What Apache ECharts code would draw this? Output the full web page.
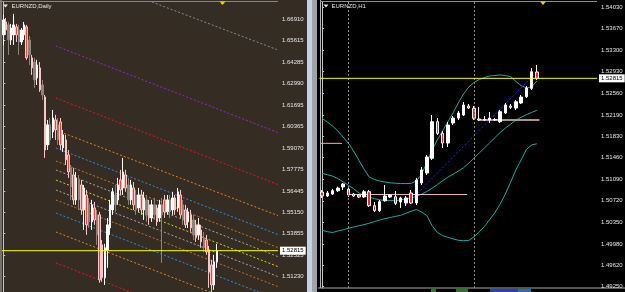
<!DOCTYPE html>
<html><head><meta charset="utf-8">
<script src="https://cdn.jsdelivr.net/npm/echarts@6/dist/echarts.min.js"></script>
<style>html,body{margin:0;padding:0;background:#000;}#c{width:625px;height:292px;}</style>
</head><body><div id="c"></div>
<script>
// ---------- LEFT PANEL: EURNZD, Daily ----------
const leftTitle = 'EURNZD,Daily';
const leftOpen = [1.6596,1.6675,1.6657,1.6565,1.6596,1.6645,1.6626,1.6553,1.6596,1.6645,
1.6565,1.6456,1.6431,1.6334,1.6395,1.6291,1.6218,1.5926,1.6048,1.6005,
1.6078,1.6048,1.6066,1.5908,1.5956,1.5865,1.5786,1.5743,1.5591,1.5713,
1.5682,1.5530,1.5621,1.5561,1.5457,1.5542,1.5500,1.5500,1.5317,1.5116,
1.5286,1.5420,1.5530,1.5621,1.5591,1.5713,1.5664,1.5743,1.5682,1.5591,
1.5664,1.5621,1.5542,1.5621,1.5530,1.5591,1.5561,1.5481,1.5561,1.5542,
1.5481,1.5561,1.5591,1.5518,1.5591,1.5530,1.5603,1.5542,1.5621,1.5561,
1.5530,1.5457,1.5500,1.5469,1.5439,1.5378,1.5408,1.5360,1.5347,1.5286,
1.5195,1.5073,1.5213];
const leftClose = [1.6687,1.6626,1.6565,1.6638,1.6657,1.6596,1.6553,1.6626,1.6657,1.6456,
1.6474,1.6395,1.6322,1.6413,1.6261,1.6230,1.5895,1.6048,1.5956,1.6090,
1.6017,1.5956,1.5926,1.5987,1.5835,1.5761,1.5682,1.5591,1.5725,1.5591,
1.5530,1.5664,1.5439,1.5457,1.5561,1.5469,1.5378,1.5104,1.5116,1.5299,
1.5439,1.5561,1.5640,1.5561,1.5682,1.5652,1.5761,1.5664,1.5591,1.5682,
1.5561,1.5530,1.5621,1.5530,1.5603,1.5500,1.5481,1.5561,1.5500,1.5457,
1.5561,1.5500,1.5518,1.5591,1.5518,1.5603,1.5530,1.5640,1.5500,1.5469,
1.5439,1.5518,1.5420,1.5378,1.5360,1.5439,1.5335,1.5299,1.5274,1.5152,
1.5073,1.5213,1.52815];
const leftLow = [1.6535,1.6596,1.6474,1.6535,1.6535,1.6553,1.6474,1.6535,1.6565,1.6444,
1.6413,1.6352,1.6273,1.6291,1.6249,1.6200,1.5847,1.5895,1.5926,1.5968,
1.5956,1.5926,1.5895,1.5883,1.5804,1.5725,1.5591,1.5561,1.5561,1.5530,
1.5500,1.5408,1.5378,1.5420,1.5408,1.5439,1.5317,1.5086,1.5092,1.5073,
1.5177,1.5378,1.5500,1.5518,1.5561,1.5621,1.5621,1.5640,1.5561,1.5561,
1.5530,1.5500,1.5518,1.5500,1.5469,1.5457,1.5439,1.5457,1.5469,1.5433,
1.5457,1.5207,1.5481,1.5500,1.5481,1.5500,1.5500,1.5518,1.5481,1.5439,
1.5420,1.5420,1.5396,1.5347,1.5335,1.5347,1.5299,1.5274,1.5256,1.5055,
1.5031,1.5043,1.5177];
const leftHigh = [1.6718,1.6699,1.6675,1.6663,1.6724,1.6663,1.6657,1.6638,1.6675,1.6657,
1.6590,1.6474,1.6456,1.6444,1.6431,1.6322,1.6230,1.6078,1.6090,1.6139,
1.6109,1.6090,1.6090,1.6017,1.5987,1.5895,1.5804,1.5786,1.5761,1.5743,
1.5713,1.5682,1.5652,1.5603,1.5591,1.5579,1.5530,1.5518,1.5347,1.5323,
1.5481,1.5591,1.5664,1.5682,1.5725,1.5774,1.5847,1.5774,1.5725,1.5713,
1.5700,1.5652,1.5664,1.5652,1.5640,1.5621,1.5591,1.5591,1.5603,1.5561,
1.5591,1.5603,1.5621,1.5621,1.5621,1.5640,1.5621,1.5664,1.5652,1.5591,
1.5561,1.5542,1.5530,1.5500,1.5469,1.5481,1.5439,1.5396,1.5378,1.5311,
1.5226,1.5256,1.5323];
// bars belonging to the grey overlay candles
const leftGreyBars = [2,6,10,12,15,18,21,26,29,33,36,43,48,51,55,58,61,64,69,73,77];
const leftTicks = [1.66910,1.65615,1.64285,1.62990,1.61695,1.60365,1.59070,1.57775,1.56445,1.55150,1.53855,1.52525,1.51230];
const leftSlots = 106;
// dotted channel lines: start bar, start price, end price (end bar = right edge)
const forkStartBar   = [20.2,20.2,23.3,20.2,20.2,20.2,20.2,20.2,20.2,20.2,20.2,20.2,57.1];
const forkStartPrice = [1.65284,1.62116,1.59966,1.59070,1.58278,1.57730,1.57121,1.56512,1.55903,1.55111,1.53954,1.52065,1.67964];
const forkEndPrice   = [1.60008,1.56841,1.54952,1.53795,1.53003,1.52455,1.51846,1.51237,1.50627,1.49835,1.48678,1.46790,1.65040];
const forkEndBar = 105.5;

// ---------- RIGHT PANEL: EURNZD, H1 ----------
const rightTitle = 'EURNZD,H1';
const rightOpen = [1.50870,1.50802,1.50836,1.50892,1.50956,1.50921,1.50836,1.50819,1.50785,1.50875,
1.50636,1.50551,1.50721,1.50785,1.50790,1.50699,1.50682,1.50853,1.50682,1.51024,
1.51195,1.51447,1.52073,1.51874,1.51708,1.52051,1.52136,1.52188,1.52341,1.52302,
1.52119,1.52111,1.52102,1.52102,1.52073,1.52222,1.52341,1.52307,1.52393,1.52501,
1.52644,1.52923];
const rightClose = [1.50802,1.50853,1.50892,1.50938,1.51007,1.50819,1.50802,1.50785,1.50875,1.50636,
1.50551,1.50704,1.50802,1.50819,1.50677,1.50768,1.50768,1.50682,1.51075,1.51247,
1.51469,1.52073,1.51874,1.51708,1.52016,1.52136,1.52222,1.52359,1.52307,1.52131,
1.52102,1.52102,1.52136,1.52111,1.52244,1.52359,1.52319,1.52415,1.52495,1.52649,
1.52928,1.52815];
const rightLow = [1.50768,1.50785,1.50819,1.50870,1.50904,1.50785,1.50785,1.50768,1.50768,1.50614,
1.50528,1.50528,1.50704,1.50768,1.50648,1.50597,1.50631,1.50665,1.50648,1.50990,
1.51161,1.51418,1.51845,1.51623,1.51640,1.52016,1.52102,1.52170,1.52290,1.52102,
1.52085,1.52085,1.52051,1.52085,1.52051,1.52205,1.52290,1.52273,1.52376,1.52478,
1.52615,1.52786];
const rightHigh = [1.50904,1.50887,1.50921,1.50961,1.51024,1.50956,1.50853,1.50836,1.50904,1.50904,
1.50699,1.50733,1.50990,1.50836,1.50887,1.50790,1.50802,1.50904,1.51110,1.51298,
1.51503,1.52188,1.52136,1.51914,1.52068,1.52170,1.52256,1.52410,1.52376,1.52341,
1.52324,1.52170,1.52239,1.52136,1.52273,1.52393,1.52376,1.52444,1.52530,1.52684,
1.52991,1.53043];
const bandUpper = [1.52128,1.52068,1.51999,1.51914,1.51811,1.51708,1.51572,1.51417,1.51263,1.51126,
1.51084,1.51058,1.51041,1.51027,1.51021,1.51015,1.51015,1.51019,1.51058,1.51178,
1.51366,1.51589,1.51760,1.51914,1.52068,1.52222,1.52393,1.52547,1.52666,1.52743,
1.52795,1.52829,1.52855,1.52863,1.52872,1.52863,1.52846,1.52761,1.52692,1.52650,
1.52667,1.52769];
const bandMiddle = [1.51190,1.51166,1.51142,1.51101,1.51045,1.50985,1.50928,1.50857,1.50808,1.50781,
1.50757,1.50735,1.50728,1.50725,1.50721,1.50737,1.50754,1.50771,1.50795,1.50834,
1.50879,1.50935,1.50997,1.51062,1.51123,1.51174,1.51229,1.51284,1.51363,1.51452,
1.51537,1.51623,1.51712,1.51800,1.51889,1.51962,1.52030,1.52102,1.52147,1.52193,
1.52231,1.52267];
const bandLower = [1.50215,1.50192,1.50177,1.50203,1.50223,1.50249,1.50271,1.50292,1.50312,1.50336,
1.50364,1.50391,1.50415,1.50434,1.50453,1.50471,1.50507,1.50541,1.50570,1.50528,
1.50468,1.50295,1.50179,1.50126,1.50095,1.50069,1.50045,1.50037,1.50042,1.50102,
1.50189,1.50280,1.50398,1.50518,1.50663,1.50836,1.51037,1.51247,1.51418,1.51596,
1.51674,1.51695];
const rightTicks = [1.54030,1.53670,1.53300,1.52930,1.52560,1.52190,1.51830,1.51460,1.51090,1.50720,1.50350,1.49980,1.49620,1.49250];
const rightSlots = 53;
const trendBars = [16, 41];
const trendPrices = [1.50648, 1.52923];
const levelBars = [[-0.2, 3.8], [5, 27.7], [30, 41.5]];
const levelPrices = [1.51703, 1.50827, 1.52102];
const dayStartBars = [5, 29];
const bidPrice = 1.52815;

// ---------- build ----------
const FONT = 'Liberation Sans';
const leftCats = Array.from({length: leftSlots}, (_, i) => String(i));
const rightCats = Array.from({length: rightSlots}, (_, i) => String(i));
const E = ['-','-','-','-'];
const leftMain = leftOpen.map((o, i) => leftGreyBars.includes(i) ? E : [o, leftClose[i], leftLow[i], leftHigh[i]]);
const leftGrey = leftOpen.map((o, i) => leftGreyBars.includes(i) ? [o, leftClose[i], leftLow[i], leftHigh[i]] : E);
const rightData = rightOpen.map((o, i) => [o, rightClose[i], rightLow[i], rightHigh[i]]);

const forkColors = ['#9a22d4','#e01a1a','#e8801e','#2f8be0','#c8702a','#b4a48c','#e6c81e','#b4a48c','#c8702a','#2f8be0','#e8801e','#e01a1a','#858b93'];
const levelColors = ['#f0b4b4','#e8bcbc','#a89494'];
const levelWidths = [1, 1, 2];

function bidLine(xIdx, yIdx, slots){
  return {type:'line', xAxisIndex:xIdx, yAxisIndex:yIdx, silent:true, symbol:'none', z:5, clip:false,
    data:[[-0.5, bidPrice], [slots - 0.5, bidPrice]],
    lineStyle:{color:'#ffff00', width:1},
    endLabel:{show:true, formatter: bidPrice.toFixed(5), backgroundColor:'#ffffff', color:'#000000',
      fontSize:6, fontFamily:FONT, padding:[1,2,1,2], distance:2}};
}

const series = [];
forkStartBar.forEach((b, k) => series.push({
  type:'line', xAxisIndex:1, yAxisIndex:0, silent:true, symbol:'none', z:1, clip:true,
  data:[[b, forkStartPrice[k]], [forkEndBar, forkEndPrice[k]]],
  lineStyle:{color:forkColors[k], width:1, type:[2,2]}
}));
series.push({
  type:'candlestick', xAxisIndex:0, yAxisIndex:0, silent:true, z:3, barWidth:2,
  data:leftGrey,
  itemStyle:{color:'#8d837a', color0:'#8d837a', borderColor:'#8d837a', borderColor0:'#8d837a', borderWidth:1}
});
series.push({
  type:'candlestick', xAxisIndex:0, yAxisIndex:0, silent:true, z:4, barWidth:2,
  data:leftMain,
  itemStyle:{color:'#ffffff', color0:'#ff3b3b', borderColor:'#ffffff', borderColor0:'#ffc4c4', borderWidth:1}
});
series.push(bidLine(1, 0, leftSlots));
// right overlays
[bandUpper, bandMiddle, bandLower].forEach(b => series.push({
  type:'line', xAxisIndex:2, yAxisIndex:1, silent:true, symbol:'none', z:2, data:b,
  lineStyle:{color:'#20aaa2', width:1}
}));
levelBars.forEach((seg, k) => series.push({
  type:'line', xAxisIndex:3, yAxisIndex:1, silent:true, symbol:'none', z:2,
  data:[[seg[0], levelPrices[k]], [seg[1], levelPrices[k]]],
  lineStyle:{color:levelColors[k], width:levelWidths[k]},
  markLine: k === 0 ? {symbol:'none', silent:true, label:{show:false}, emphasis:{disabled:true},
    lineStyle:{color:'#8c8c8c', width:1, type:[2,2]},
    data: dayStartBars.map(d => ({xAxis: d}))} : undefined
}));
series.push({
  type:'line', xAxisIndex:3, yAxisIndex:1, silent:true, symbol:'none', z:2,
  data: trendBars.map((b, i) => [b, trendPrices[i]]),
  lineStyle:{color:'#2424ff', width:1, type:[2,2]}
});
series.push({
  type:'candlestick', xAxisIndex:2, yAxisIndex:1, silent:true, z:4, barWidth:3,
  data:rightData,
  itemStyle:{color:'#ffffff', color0:'#ff2424', borderColor:'#ffffff', borderColor0:'#ffffff', borderWidth:1}
});
series.push(bidLine(3, 1, rightSlots));

function yAx(grid, min, max, ticks){
  return {type:'value', gridIndex:grid, position:'right', min:min, max:max,
    splitLine:{show:false},
    axisLine:{show:true, lineStyle:{color:'#c4c4c4', width:1}},
    axisTick:{show:true, length:2, inside:false, customValues:ticks, lineStyle:{color:'#c4c4c4'}},
    axisLabel:{show:true, customValues:ticks, formatter: v => Number(v).toFixed(5), color:'#e6e6e6',
      fontSize:6, fontFamily:FONT, margin:4}};
}

const graphic = [
  {type:'rect', shape:{x:0,y:0,width:307,height:292}, style:{fill:'#352c24'}, z:-100},
  {type:'rect', shape:{x:307,y:0,width:5,height:292}, style:{fill:'#c4d1e0'}, z:-100},
  {type:'rect', shape:{x:312,y:0,width:5,height:292}, style:{fill:'#9ea4aa'}, z:-100},
  {type:'rect', shape:{x:317,y:0,width:308,height:292}, style:{fill:'#000000'}, z:-100},
  {type:'rect', shape:{x:0,y:0,width:2,height:292}, style:{fill:'#77716b'}, z:-90},
  {type:'rect', shape:{x:0,y:1,width:278,height:1}, style:{fill:'#8a8580'}, z:-90},
  {type:'rect', shape:{x:320,y:0,width:1,height:288}, style:{fill:'#b4b4b4'}, z:-90},
  {type:'rect', shape:{x:320,y:1,width:277,height:1}, style:{fill:'#8c8c8c'}, z:-90},
  {type:'rect', shape:{x:318,y:287.5,width:307,height:1}, style:{fill:'#a8a8a8'}, z:-90},
  {type:'rect', shape:{x:431,y:289,width:5,height:3}, style:{fill:'#1f7a2a'}, z:-90},
  {type:'rect', shape:{x:456,y:289,width:12,height:3}, style:{fill:'#1f7a2a'}, z:-90},
  {type:'rect', shape:{x:490,y:289,width:28,height:3}, style:{fill:'#2a3fb8'}, z:-90},
  {type:'rect', shape:{x:518,y:289,width:13,height:3}, style:{fill:'#2a6fb0'}, z:-90},
  {type:'polygon', shape:{points:[[3,4.5],[8,4.5],[5.5,7.5]]}, style:{fill:'#e6e6e6'}, z:100},
  {type:'text', x:11.5, y:6, style:{text:leftTitle, fill:'#e6e6e6', font:'6px "Liberation Sans"', verticalAlign:'middle'}, z:100},
  {type:'polygon', shape:{points:[[323.5,4.5],[328.5,4.5],[326,7.5]]}, style:{fill:'#e6e6e6'}, z:100},
  {type:'text', x:331.5, y:6, style:{text:rightTitle, fill:'#e6e6e6', font:'6px "Liberation Sans"', verticalAlign:'middle'}, z:100},
  {type:'polygon', shape:{points:[[219.5,1.5],[225.5,1.5],[222.5,5]]}, style:{fill:'#f2d000'}, z:100},
  {type:'polygon', shape:{points:[[540,1.5],[546,1.5],[543,5]]}, style:{fill:'#f2d000'}, z:100}
];

const option = {
  animation:false,
  backgroundColor:'#000000',
  graphic: graphic,
  grid:[
    {left:2, top:2, width:276, height:290, outerBoundsMode:'none'},
    {left:319.5, top:2, width:277.5, height:286, outerBoundsMode:'none'}
  ],
  xAxis:[
    {type:'category', gridIndex:0, data:leftCats, show:false, boundaryGap:true},
    {type:'value', gridIndex:0, min:-0.5, max:leftSlots-0.5, show:false},
    {type:'category', gridIndex:1, data:rightCats, show:false, boundaryGap:true},
    {type:'value', gridIndex:1, min:-0.5, max:rightSlots-0.5, show:false}
  ],
  yAxis:[
    yAx(0, 1.50298, 1.67964, leftTicks),
    yAx(1, 1.49228, 1.54121, rightTicks)
  ],
  series: series
};
const chart = echarts.init(document.getElementById('c'), null, {renderer:'canvas'});
chart.setOption(option);
</script></body></html>
